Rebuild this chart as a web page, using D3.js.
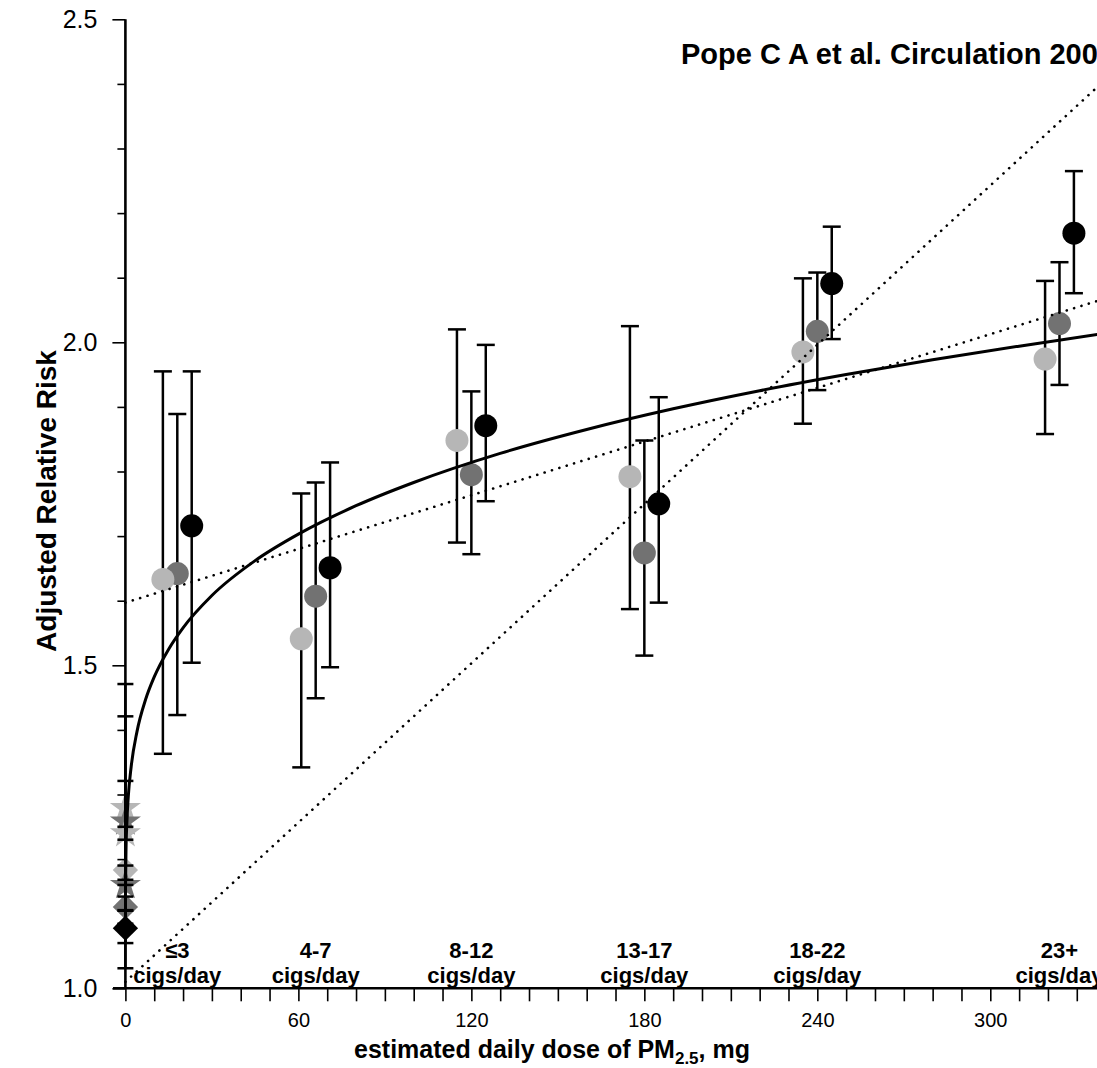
<!DOCTYPE html>
<html><head><meta charset="utf-8">
<script src="https://cdn.jsdelivr.net/npm/d3@7"></script>
<style>
body{margin:0;background:#fff}
svg{display:block}
text{font-family:"Liberation Sans",Arial,Helvetica,sans-serif;fill:#000}
</style>
</head><body>
<svg id="chart" width="1097" height="1068"></svg>
<script>
// ---- data ----
const categories = ["≤3", "4-7", "8-12", "13-17", "18-22", "23+"];
const categoryUnit = "cigs/day";

const doseA = [13, 61, 115, 175, 235, 319];
const rrA   = [1.633, 1.541, 1.848, 1.792, 1.985, 1.974];
const loA   = [1.363, 1.342, 1.690, 1.587, 1.874, 1.858];
const hiA   = [1.955, 1.766, 2.020, 2.025, 2.099, 2.095];

const doseB = [18, 66, 120, 180, 240, 324];
const rrB   = [1.642, 1.607, 1.795, 1.674, 2.017, 2.029];
const loB   = [1.423, 1.449, 1.672, 1.515, 1.926, 1.934];
const hiB   = [1.889, 1.783, 1.924, 1.848, 2.108, 2.124];

const doseC = [23, 71, 125, 185, 245, 329];
const rrC   = [1.716, 1.651, 1.871, 1.750, 2.091, 2.169];
const loC   = [1.504, 1.497, 1.754, 1.597, 2.005, 2.076];
const hiC   = [1.955, 1.814, 1.996, 1.915, 2.179, 2.265];

// estimates at (near) zero dose
const zeroShape = ["star", "star", "star", "diamond", "star", "diamond", "diamond"];
const zeroTone  = ["A", "B", "A", "A", "B", "B", "C"];
const zeroRR    = [1.279, 1.258, 1.240, 1.183, 1.160, 1.126, 1.093];
const zeroLo    = [1.121, 1.142, 1.168, 1.120, 1.100, 1.070, 1.031];
const zeroHi    = [1.471, 1.421, 1.321, 1.250, 1.230, 1.190, 1.160];

// fitted curves
const fitDose = [0.05, 0.2, 0.5, 1, 2, 4, 7, 10, 15, 20, 30, 45, 60, 80, 100, 130, 160, 190, 220, 250, 280, 310, 340];
const fitRR   = [1.158, 1.211, 1.256, 1.297, 1.343, 1.397, 1.447, 1.482, 1.525, 1.558, 1.608, 1.662, 1.703, 1.747, 1.783, 1.828, 1.865, 1.897, 1.925, 1.950, 1.973, 1.994, 2.014];
const linADose = [0, 340];
const linARR   = [1.597, 2.068];
const linBDose = [0, 340];
const linBRR   = [1.010, 2.407];

const xTicks = d3.range(0, 331, 10);
const xLabelEvery = 60;
const yTicks = d3.range(10, 26).map(d => d / 10);

const title = "Pope C A et al. Circulation 2009";

// ---- drawing ----
const W = 1097, H = 1068;
const svg = d3.select("#chart");
const x = d3.scaleLinear().domain([0, 300]).range([125.4, 990.3]);
const y = d3.scaleLinear().domain([1, 2.5]).range([988.3, 19.3]);
const tone = {A: "#b6b6b6", B: "#727272", C: "#000000"};

const series = [
  {dose: doseA, rr: rrA, lo: loA, hi: hiA, color: tone.A},
  {dose: doseB, rr: rrB, lo: loB, hi: hiB, color: tone.B},
  {dose: doseC, rr: rrC, lo: loC, hi: hiC, color: tone.C}
];

// zero-dose markers
const zero = zeroRR.map((v, i) => ({rr: v, lo: zeroLo[i], hi: zeroHi[i], shape: zeroShape[i], color: tone[zeroTone[i]]}));
const starSym = d3.symbol().type(d3.symbolStar).size(300);
const diaSym = d3.symbol().type(d3.symbolSquare).size(320);
svg.append("g").selectAll("path").data(zero).join("path")
  .attr("d", d => d.shape === "star" ? starSym() : diaSym())
  .attr("transform", d => `translate(${x(0)},${y(d.rr)})` + (d.shape === "diamond" ? " rotate(45)" : ""))
  .attr("fill", d => d.color);

const zg = svg.append("g").attr("stroke", "#000").attr("stroke-width", 2.5);
zero.forEach(d => {
  zg.append("line").attr("x1", x(0)).attr("x2", x(0)).attr("y1", y(d.lo)).attr("y2", y(d.hi));
  zg.append("line").attr("x1", x(0) - 8).attr("x2", x(0) + 8).attr("y1", y(d.lo)).attr("y2", y(d.lo));
  zg.append("line").attr("x1", x(0) - 8).attr("x2", x(0) + 8).attr("y1", y(d.hi)).attr("y2", y(d.hi));
});

// error bars
const eg = svg.append("g").attr("stroke", "#000").attr("stroke-width", 2.5);
series.forEach(s => {
  s.dose.forEach((dv, i) => {
    const cx = x(dv);
    eg.append("line").attr("x1", cx).attr("x2", cx).attr("y1", y(s.lo[i])).attr("y2", y(s.hi[i]));
    eg.append("line").attr("x1", cx - 9).attr("x2", cx + 9).attr("y1", y(s.lo[i])).attr("y2", y(s.lo[i]));
    eg.append("line").attr("x1", cx - 9).attr("x2", cx + 9).attr("y1", y(s.hi[i])).attr("y2", y(s.hi[i]));
  });
});

// points (black first, light on top)
[series[2], series[1], series[0]].forEach(s => {
  svg.append("g").selectAll("circle").data(s.dose.map((dv, i) => [dv, s.rr[i]])).join("circle")
    .attr("cx", d => x(d[0])).attr("cy", d => y(d[1])).attr("r", 11.5)
    .attr("fill", s.color);
});

// fitted curves
const line = d3.line().x(d => x(d[0])).y(d => y(d[1]));
svg.append("path")
  .attr("d", line.curve(d3.curveMonotoneX)(fitDose.map((dv, i) => [dv, fitRR[i]])))
  .attr("fill", "none").attr("stroke", "#000").attr("stroke-width", 3);
const straight = d3.line().x(d => x(d[0])).y(d => y(d[1]));
[[linADose, linARR], [linBDose, linBRR]].forEach(([dd, rr]) => {
  svg.append("path")
    .attr("d", straight(dd.map((dv, i) => [dv, rr[i]])))
    .attr("fill", "none").attr("stroke", "#000").attr("stroke-width", 2.6)
    .attr("stroke-linecap", "round").attr("stroke-dasharray", "0.1,7.6");
});

// x axis
const xAxis = d3.axisBottom(x).tickValues(xTicks).tickSize(13).tickPadding(12)
  .tickFormat(d => d % xLabelEvery === 0 ? d : "");
const gx = svg.append("g").attr("transform", `translate(0,${y(1)})`).call(xAxis);
gx.select(".domain").remove();
gx.selectAll(".tick line").attr("stroke", "#000").attr("stroke-width", 1.6);
gx.selectAll(".tick text").attr("font-size", 20).attr("font-family", "Liberation Sans, Arial, sans-serif");
svg.append("line").attr("x1", x(-4.3)).attr("x2", W).attr("y1", y(1)).attr("y2", y(1))
  .attr("stroke", "#000").attr("stroke-width", 2.5);

// y axis
const yAxis = d3.axisLeft(y).tickValues(yTicks).tickSize(8).tickPadding(0)
  .tickFormat(d => Math.abs(d * 2 - Math.round(d * 2)) < 1e-6 ? d3.format(".1f")(d) : "");
const gy = svg.append("g").attr("transform", `translate(${x(0)},0)`).call(yAxis);
gy.select(".domain").remove();
gy.selectAll(".tick line").attr("stroke", "#000").attr("stroke-width", 1.6)
  .attr("x2", d => Math.abs(d * 2 - Math.round(d * 2)) < 1e-6 ? -13 : -8);
gy.selectAll(".tick text").attr("x", -28).attr("font-size", 25).attr("font-family", "Liberation Sans, Arial, sans-serif");
svg.append("line").attr("x1", x(0)).attr("x2", x(0)).attr("y1", y(2.5)).attr("y2", y(1))
  .attr("stroke", "#000").attr("stroke-width", 2.6);

// category labels
const catG = svg.append("g").attr("text-anchor", "middle").attr("font-weight", "bold").attr("font-size", 22);
categories.forEach((c, i) => {
  const cx = x((doseA[i] + doseC[i]) / 2);
  catG.append("text").attr("x", cx).attr("y", y(1) - 30).text(c);
  catG.append("text").attr("x", cx).attr("y", y(1) - 5).text(categoryUnit);
});

// axis titles
const xt = svg.append("text").attr("x", 552).attr("y", 1058).attr("text-anchor", "middle")
  .attr("font-weight", "bold").attr("font-size", 25);
xt.append("tspan").text("estimated daily dose of PM");
xt.append("tspan").attr("font-size", 17).attr("dy", 6).text("2.5");
xt.append("tspan").attr("dy", -6).text(", mg");

svg.append("text").attr("transform", "translate(56,501) rotate(-90)").attr("text-anchor", "middle")
  .attr("font-weight", "bold").attr("font-size", 28).text("Adjusted Relative Risk");

svg.append("text").attr("x", 681).attr("y", 64).attr("font-weight", "bold").attr("font-size", 29).text(title);
</script>
</body></html>
